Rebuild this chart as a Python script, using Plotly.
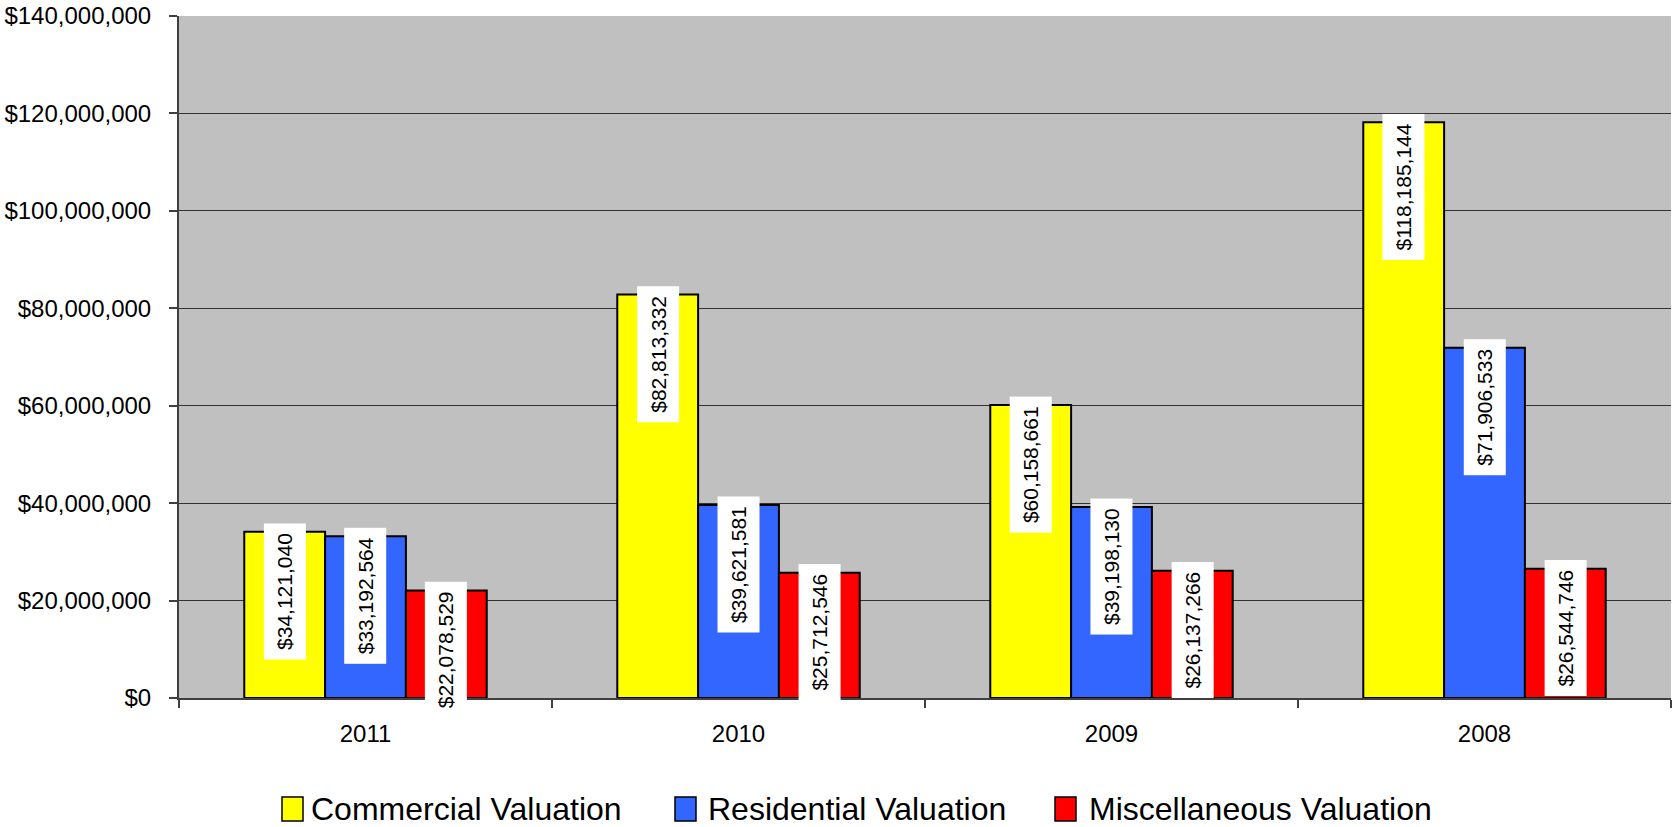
import plotly.graph_objects as go

years = ["2011", "2010", "2009", "2008"]
series_names = ["Commercial Valuation", "Residential Valuation", "Miscellaneous Valuation"]
commercial = [34121040, 82813332, 60158661, 118185144]
residential = [33192564, 39621581, 39198130, 71906533]
miscellaneous = [22078529, 25712546, 26137266, 26544746]
y_tickvals = [0, 20000000, 40000000, 60000000, 80000000, 100000000, 120000000, 140000000]
y_ticktext = ["$0", "$20,000,000", "$40,000,000", "$60,000,000", "$80,000,000",
              "$100,000,000", "$120,000,000", "$140,000,000"]

colors = ["#FFFF00", "#3366FF", "#FF0000"]
all_series = [commercial, residential, miscellaneous]
FONT = "Liberation Sans, Arial, sans-serif"
BARGAP = 0.35

# figure geometry
W, H = 1672, 827
ML, MR, MT, MB = 179, 1, 16, 129
PW = W - ML - MR
PH = H - MT - MB

fig = go.Figure()
for name, vals, col in zip(series_names, all_series, colors):
    fig.add_trace(go.Bar(
        x=years, y=vals, name=name, showlegend=False,
        marker=dict(color=col, line=dict(color="#000000", width=2)),
        hovertemplate=name + "<br>%{x}: $%{y:,}<extra></extra>",
    ))

# value labels (rotated, white boxes at top of bars)
bw = (1 - BARGAP) / 3
for si, vals in enumerate(all_series):
    off = (si - 1) * bw
    for ci, v in enumerate(vals):
        fig.add_annotation(
            x=ci + off, y=v, xref="x", yref="y",
            text="${:,}".format(v),
            textangle=-90, showarrow=False,
            xanchor="center", yanchor="top", yshift=9,
            bgcolor="#FFFFFF", borderpad=9,
            font=dict(family=FONT, size=21, color="#000000"),
        )

# custom legend below the plot (pixel offsets relative to plot area)
legend_sq_left = [103, 496, 876]     # px from plot left edge
legend_text_left = [130, 527, 908]
sq_w, sq_top, sq_bot, txt_mid = 21, 99, 123, 111  # px below plot bottom
for name, col, sx, tx in zip(series_names, colors, legend_sq_left, legend_text_left):
    fig.add_shape(
        type="rect", xref="paper", yref="paper",
        x0=sx / PW, x1=(sx + sq_w) / PW,
        y0=-sq_top / PH, y1=-sq_bot / PH,
        fillcolor=col, line=dict(color="#000000", width=1.5), layer="above",
    )
    fig.add_annotation(
        x=tx / PW, y=-txt_mid / PH, xref="paper", yref="paper",
        text=name, showarrow=False, xanchor="left", yanchor="middle",
        font=dict(family=FONT, size=32, color="#000000"),
    )

fig.update_layout(
    width=W, height=H,
    margin=dict(l=ML, r=MR, t=MT, b=MB, autoexpand=False),
    paper_bgcolor="#FFFFFF", plot_bgcolor="#C0C0C0",
    barmode="group", bargap=BARGAP, bargroupgap=0,
    font=dict(family=FONT, size=24, color="#000000"),
    showlegend=False,
)
fig.update_xaxes(
    type="category", categoryorder="array", categoryarray=years,
    showgrid=False, showline=True, linecolor="#404040", linewidth=2,
    ticks="outside", tickson="boundaries", ticklen=8, tickcolor="#404040", tickwidth=1.5,
    tickfont=dict(family=FONT, size=24), ticklabelstandoff=13,
    zeroline=False, automargin=False,
)
fig.update_yaxes(
    range=[0, 140000000], tickvals=y_tickvals, ticktext=y_ticktext,
    showgrid=True, gridcolor="#333333", gridwidth=1,
    showline=True, linecolor="#404040", linewidth=2,
    ticks="outside", ticklen=8, tickcolor="#404040", tickwidth=1.5,
    tickfont=dict(family=FONT, size=24), ticklabelstandoff=13,
    zeroline=False, automargin=False,
)

fig.write_html(
    "out.html",
    config={"displayModeBar": False},
    post_script="document.body.style.margin='0px';document.body.style.overflow='hidden';",
)
